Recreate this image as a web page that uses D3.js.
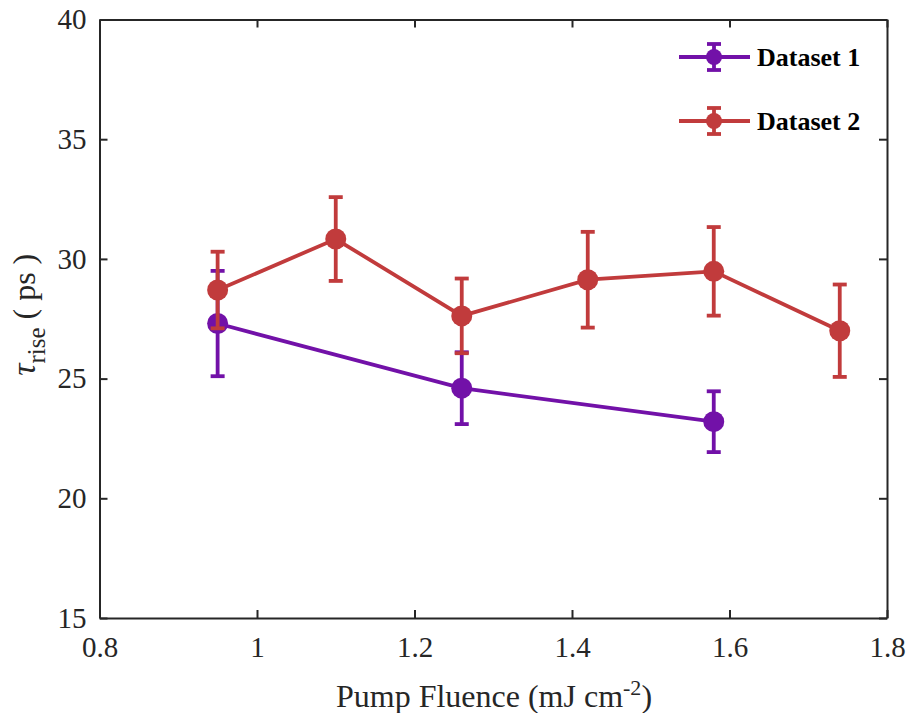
<!DOCTYPE html>
<html><head><meta charset="utf-8">
<script src="https://cdn.jsdelivr.net/npm/d3@7"></script>
<style>
html,body{margin:0;padding:0;background:#fff;}
svg{display:block;font-family:"Liberation Serif","Times New Roman",serif;}
</style></head>
<body><svg id="c" width="912" height="713"></svg>
<script>
const xTicks = [0.8, 1, 1.2, 1.4, 1.6, 1.8];
const yTicks = [15, 20, 25, 30, 35, 40];
const xLabels = ["0.8", "1", "1.2", "1.4", "1.6", "1.8"];

const d1Fluence = [0.95, 1.26, 1.58];
const d1Tau = [27.3, 24.6, 23.2];
const d1Err = [2.2, 1.5, 1.27];

const d2Fluence = [0.95, 1.10, 1.26, 1.42, 1.58, 1.74];
const d2Tau = [28.7, 30.83, 27.62, 29.13, 29.48, 27.0];
const d2Err = [1.6, 1.75, 1.56, 2.0, 1.85, 1.93];

const seriesNames = ["Dataset 1", "Dataset 2"];
const colors = ["#7211a8", "#c13b3c"];

const W = 912, H = 713;
const m = {left: 99.5, right: 887, top: 19.5, bottom: 618};
const svg = d3.select("#c");
const x = d3.scaleLinear().domain([0.8, 1.8]).range([m.left, m.right]);
const y = d3.scaleLinear().domain([15, 40]).range([m.bottom, m.top]);
const axisColor = "#262626";

// axes
const gx = svg.append("g").attr("transform", `translate(0,${m.bottom})`)
  .call(d3.axisBottom(x).tickValues(xTicks).tickFormat((d,i)=>xLabels[i]).tickSizeInner(-8).tickSizeOuter(0).tickPadding(18));
const gxt = svg.append("g").attr("transform", `translate(0,${m.top})`)
  .call(d3.axisTop(x).tickValues(xTicks).tickFormat("").tickSizeInner(-8).tickSizeOuter(0));
const gy = svg.append("g").attr("transform", `translate(${m.left},0)`)
  .call(d3.axisLeft(y).tickValues(yTicks).tickSizeInner(-8).tickSizeOuter(0).tickPadding(13));
const gyr = svg.append("g").attr("transform", `translate(${m.right},0)`)
  .call(d3.axisRight(y).tickValues(yTicks).tickFormat("").tickSizeInner(-8).tickSizeOuter(0));
[gx,gxt,gy,gyr].forEach(g=>{
  g.select(".domain").attr("stroke", axisColor).attr("stroke-width", 2);
  g.selectAll(".tick line").attr("stroke", axisColor).attr("stroke-width", 2);
  g.selectAll(".tick text").attr("fill", axisColor).style("font-size","29px").style("font-family",'"Liberation Serif",serif');
});
gx.selectAll(".tick text").attr("dy","0.71em");

// labels
const xl = svg.append("text").attr("x", 494).attr("y", 707)
  .attr("text-anchor","middle").attr("fill", axisColor).style("font-size","32px");
xl.append("tspan").text("Pump Fluence (mJ cm");
xl.append("tspan").attr("dy","-12").style("font-size","22px").text("-2");
xl.append("tspan").attr("dy","12").text(")");

const yl = svg.append("text").attr("transform", `translate(35,${(m.top+m.bottom)/2 - 4}) rotate(-90)`)
  .attr("text-anchor","middle").attr("fill", axisColor).style("font-size","32px");
yl.append("tspan").style("font-style","italic").style("font-size","34px").text("τ");
yl.append("tspan").attr("dy","10").style("font-size","25px").text("rise");
yl.append("tspan").attr("dy","-10").text(" ( ps )");

// data series
const series = [
  {fl: d1Fluence, tau: d1Tau, err: d1Err},
  {fl: d2Fluence, tau: d2Tau, err: d2Err}
];
const capW = 7;
series.forEach((s, k) => {
  const pts = s.fl.map((f,i)=>({f, t: s.tau[i], e: s.err[i]}));
  const g = svg.append("g");
  g.append("path").datum(pts)
    .attr("d", d3.line().x(d=>x(d.f)).y(d=>y(d.t)))
    .attr("fill","none").attr("stroke", colors[k]).attr("stroke-width", 3.8);
  const eb = g.selectAll(".eb").data(pts).enter().append("g");
  eb.append("line").attr("x1",d=>x(d.f)).attr("x2",d=>x(d.f))
    .attr("y1",d=>y(d.t+d.e)).attr("y2",d=>y(d.t-d.e))
    .attr("stroke", colors[k]).attr("stroke-width", 3.8);
  eb.append("line").attr("x1",d=>x(d.f)-capW).attr("x2",d=>x(d.f)+capW)
    .attr("y1",d=>y(d.t+d.e)).attr("y2",d=>y(d.t+d.e))
    .attr("stroke", colors[k]).attr("stroke-width", 3.8);
  eb.append("line").attr("x1",d=>x(d.f)-capW).attr("x2",d=>x(d.f)+capW)
    .attr("y1",d=>y(d.t-d.e)).attr("y2",d=>y(d.t-d.e))
    .attr("stroke", colors[k]).attr("stroke-width", 3.8);
  g.selectAll("circle").data(pts).enter().append("circle")
    .attr("cx",d=>x(d.f)).attr("cy",d=>y(d.t)).attr("r",10.5)
    .attr("fill", colors[k]);
});

// legend
const legY = [57, 121];
seriesNames.forEach((name,k)=>{
  const g = svg.append("g").attr("transform", `translate(0,${legY[k]})`);
  g.append("line").attr("x1",679).attr("x2",750).attr("y1",0).attr("y2",0)
    .attr("stroke",colors[k]).attr("stroke-width",3.8);
  g.append("line").attr("x1",714).attr("x2",714).attr("y1",-13).attr("y2",13)
    .attr("stroke",colors[k]).attr("stroke-width",3.8);
  [-13,13].forEach(dy=>g.append("line").attr("x1",707).attr("x2",721).attr("y1",dy).attr("y2",dy)
    .attr("stroke",colors[k]).attr("stroke-width",3.8));
  g.append("circle").attr("cx",714).attr("cy",0).attr("r",8).attr("fill",colors[k]);
  g.append("text").attr("x",757).attr("y",0).attr("dy","0.35em")
    .style("font-size","26px").style("font-weight","bold").attr("fill","#000").text(name);
});
</script>
</body></html>
